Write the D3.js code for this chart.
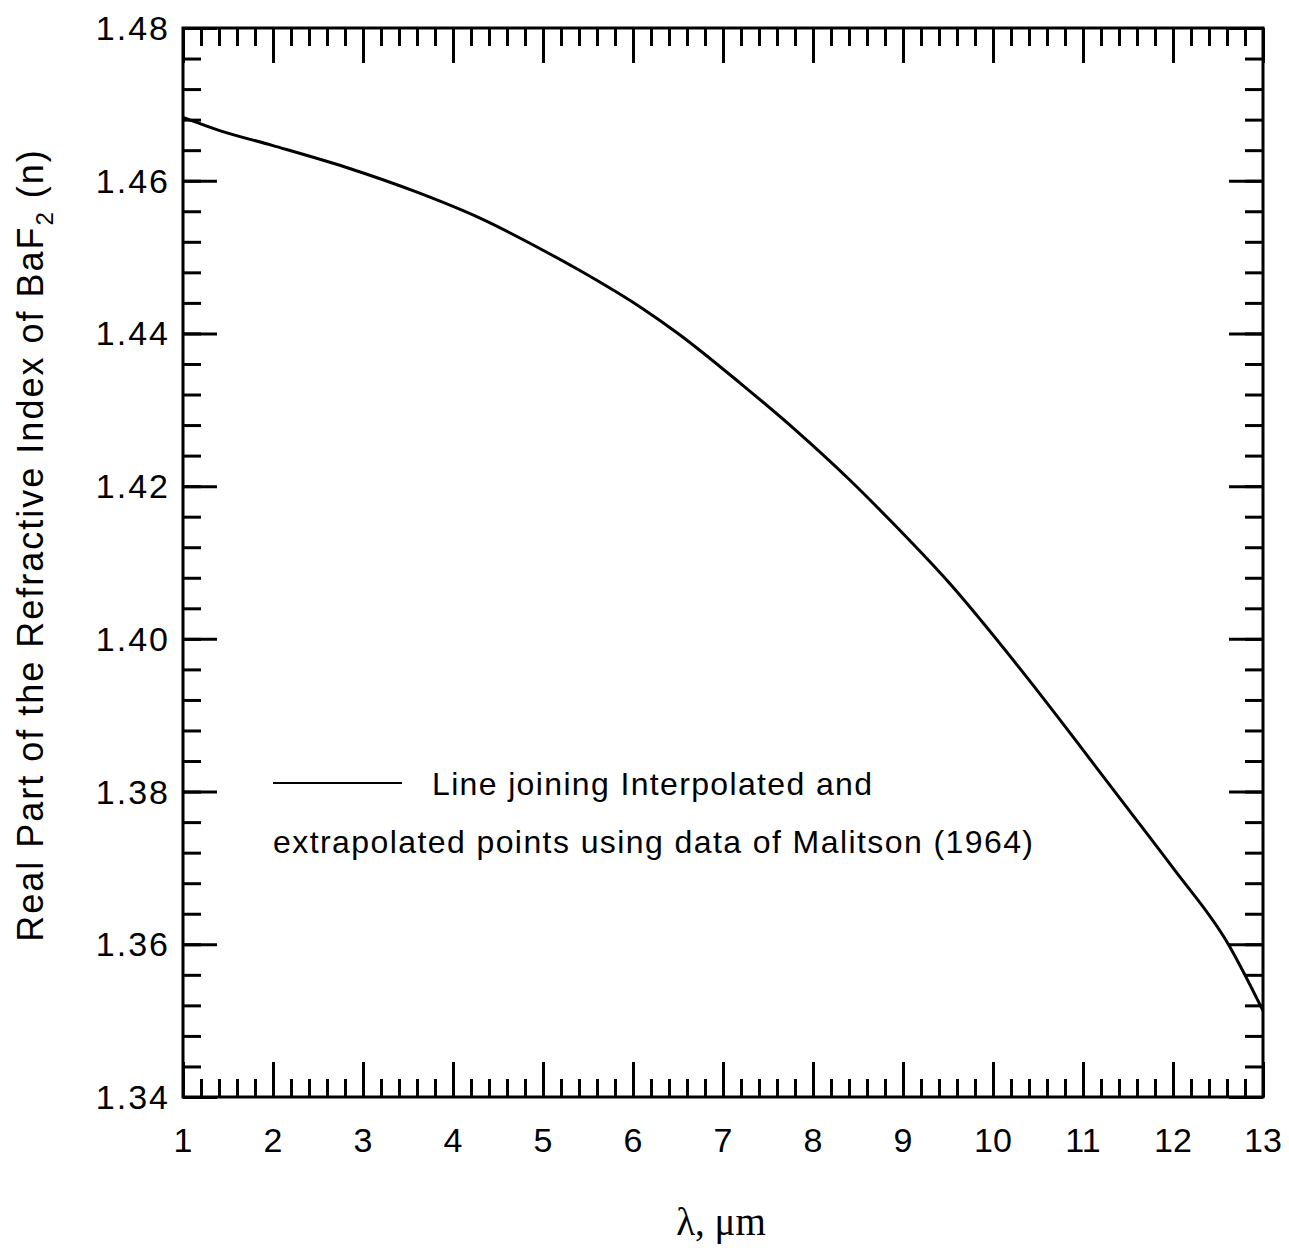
<!DOCTYPE html>
<html lang="en">
<head>
    <meta charset="UTF-8">
    <title>BaF2 refractive index</title>
    <script src="https://cdn.jsdelivr.net/npm/d3@7/dist/d3.min.js"></script>
    <style>
        body { margin: 0; background: #fff; }
        text { font-family: "Liberation Sans", Arial, sans-serif; fill: #000; }
    </style>
</head>
<body>
<script type="text/javascript">
    // wavelength (um) and real refractive index
    var wavelength = [1, 1.4, 2, 2.8, 3.6, 4.3, 5.0, 5.4, 6.1, 6.5, 7.2, 7.8, 8.4, 8.9, 9.5,
        10.3, 10.9, 11.3, 12.0, 12.6, 13.0];
    var nReal = [1.4683, 1.4666, 1.4646, 1.4618, 1.4585, 1.4551, 1.4509, 1.4483, 1.4433, 1.4400,
        1.4334, 1.4274, 1.4209, 1.4150, 1.4075, 1.3961, 1.3870, 1.3808, 1.3700, 1.3603, 1.3513];

    var xTicks = [1, 2, 3, 4, 5, 6, 7, 8, 9, 10, 11, 12, 13];
    var yTicks = [1.34, 1.36, 1.38, 1.40, 1.42, 1.44, 1.46, 1.48];
    var xMinor = d3.range(0, 61).map(function (i) { return 1 + i * 0.2; });
    var yMinor = d3.range(0, 36).map(function (i) { return 1.34 + i * 0.004; });

    var width = 1289;
    var height = 1253;
    var plotL = 183, plotR = 1263, plotT = 28, plotB = 1097;

    var svg = d3.select('body').append('svg')
            .attr('width', width)
            .attr('height', height);

    var x = d3.scaleLinear().domain([1, 13]).range([plotL, plotR]);
    var y = d3.scaleLinear().domain([1.34, 1.48]).range([plotB, plotT]);

    function styleAxis(g) {
        g.select('.domain').remove();
        g.selectAll('line').attr('stroke', '#000').attr('stroke-width', 3);
    }

    // minor ticks, all four sides, pointing inward
    svg.append('g').attr('transform', 'translate(0,' + plotB + ')')
            .call(d3.axisBottom(x).tickValues(xMinor).tickSize(-18).tickFormat(''))
            .call(styleAxis);
    svg.append('g').attr('transform', 'translate(0,' + plotT + ')')
            .call(d3.axisTop(x).tickValues(xMinor).tickSize(-18).tickFormat(''))
            .call(styleAxis);
    svg.append('g').attr('transform', 'translate(' + plotL + ',0)')
            .call(d3.axisLeft(y).tickValues(yMinor).tickSize(-18).tickFormat(''))
            .call(styleAxis);
    svg.append('g').attr('transform', 'translate(' + plotR + ',0)')
            .call(d3.axisRight(y).tickValues(yMinor).tickSize(-18).tickFormat(''))
            .call(styleAxis);

    // major ticks
    svg.append('g').attr('transform', 'translate(0,' + plotB + ')')
            .call(d3.axisBottom(x).tickValues(xTicks).tickSize(-35).tickFormat(''))
            .call(styleAxis);
    svg.append('g').attr('transform', 'translate(0,' + plotT + ')')
            .call(d3.axisTop(x).tickValues(xTicks).tickSize(-35).tickFormat(''))
            .call(styleAxis);
    svg.append('g').attr('transform', 'translate(' + plotL + ',0)')
            .call(d3.axisLeft(y).tickValues(yTicks).tickSize(-34).tickFormat(''))
            .call(styleAxis);
    svg.append('g').attr('transform', 'translate(' + plotR + ',0)')
            .call(d3.axisRight(y).tickValues(yTicks).tickSize(-34).tickFormat(''))
            .call(styleAxis);

    // frame
    svg.append('rect')
            .attr('x', plotL).attr('y', plotT)
            .attr('width', plotR - plotL).attr('height', plotB - plotT)
            .attr('fill', 'none').attr('stroke', '#000').attr('stroke-width', 3);

    // tick labels
    svg.selectAll('.xlab').data(xTicks).enter().append('text')
            .attr('class', 'xlab')
            .attr('x', function (d) { return x(d); })
            .attr('y', 1152)
            .attr('text-anchor', 'middle')
            .attr('font-size', 34)
            .text(function (d) { return d; });
    svg.selectAll('.ylab').data(yTicks).enter().append('text')
            .attr('class', 'ylab')
            .attr('x', 170)
            .attr('y', function (d) { return y(d) + 12; })
            .attr('text-anchor', 'end')
            .attr('font-size', 34)
            .attr('letter-spacing', 2)
            .text(function (d) { return d.toFixed(2); });

    // axis titles
    var yt = svg.append('text')
            .attr('transform', 'translate(43,545) rotate(-90)')
            .attr('text-anchor', 'middle')
            .attr('font-size', 36)
            .attr('letter-spacing', 2);
    yt.append('tspan').text('Real Part of the Refractive Index of BaF');
    yt.append('tspan').attr('font-size', 24).attr('dy', 10).text('2');
    yt.append('tspan').attr('dy', -10).text(' (n)');

    svg.append('text')
            .attr('x', 721).attr('y', 1235)
            .attr('text-anchor', 'middle')
            .attr('font-size', 39)
            .style('font-family', '"Liberation Serif", "DejaVu Serif", serif')
            .text('\u03bb, \u03bcm');

    // curve
    var line = d3.line()
            .curve(d3.curveMonotoneX)
            .x(function (d) { return x(d[0]); })
            .y(function (d) { return y(d[1]); });
    svg.append('path')
            .datum(d3.zip(wavelength, nReal))
            .attr('fill', 'none')
            .attr('stroke', '#000')
            .attr('stroke-width', 3)
            .attr('stroke-linejoin', 'round')
            .attr('d', line);

    // legend
    svg.append('line')
            .attr('x1', 273).attr('x2', 402)
            .attr('y1', 783).attr('y2', 783)
            .attr('stroke', '#000').attr('stroke-width', 2);
    svg.append('text')
            .attr('x', 432).attr('y', 795)
            .attr('font-size', 32)
            .attr('textLength', 440)
            .attr('lengthAdjust', 'spacing')
            .text('Line joining Interpolated and');
    svg.append('text')
            .attr('x', 273).attr('y', 853)
            .attr('font-size', 32)
            .attr('textLength', 760)
            .attr('lengthAdjust', 'spacing')
            .text('extrapolated points using data of Malitson (1964)');
</script>
</body>
</html>
